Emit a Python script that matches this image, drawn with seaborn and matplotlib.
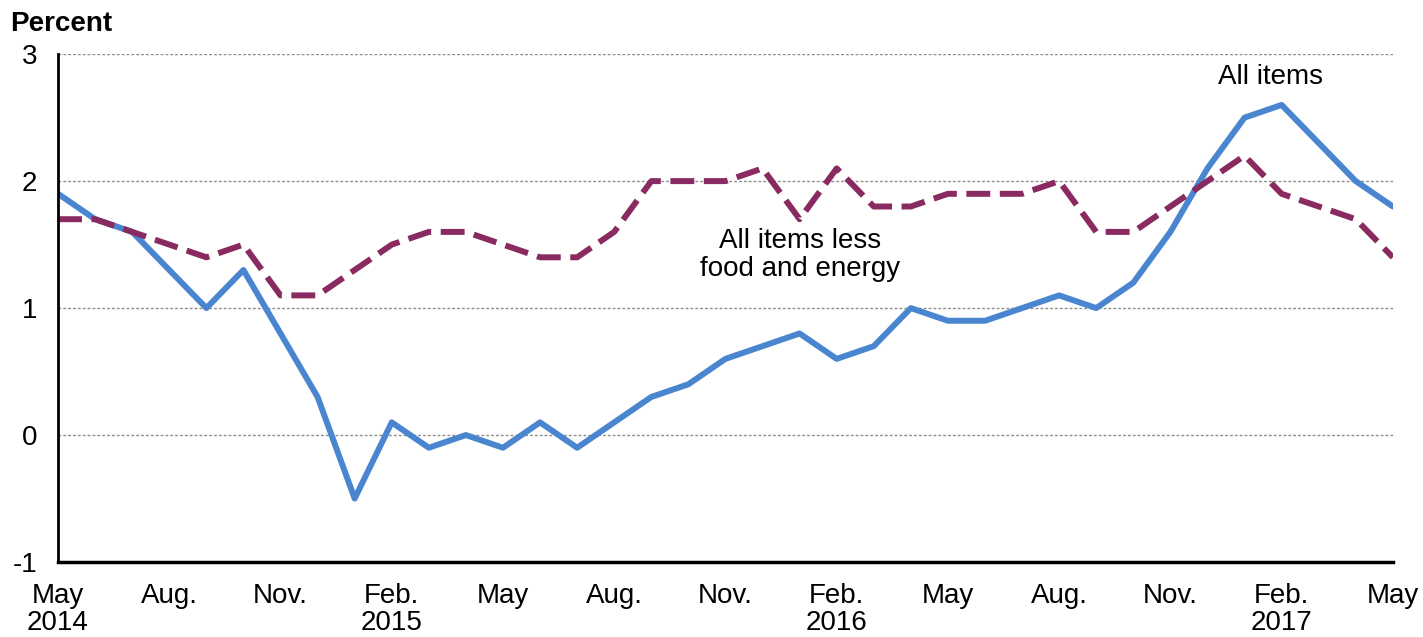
import matplotlib
matplotlib.use("Agg")
import matplotlib.pyplot as plt
import pandas as pd
import seaborn as sns

# 12-month percent change, May 2014 - May 2017
months = pd.date_range("2014-05-01", "2017-05-01", freq="MS")
all_items = [
    1.9, 1.7, 1.6, 1.3, 1.0, 1.3, 0.8, 0.3, -0.5, 0.1, -0.1, 0.0,
    -0.1, 0.1, -0.1, 0.1, 0.3, 0.4, 0.6, 0.7, 0.8, 0.6, 0.7, 1.0,
    0.9, 0.9, 1.0, 1.1, 1.0, 1.2, 1.6, 2.1, 2.5, 2.6, 2.3, 2.0, 1.8,
]
core_items = [
    1.7, 1.7, 1.6, 1.5, 1.4, 1.5, 1.1, 1.1, 1.3, 1.5, 1.6, 1.6,
    1.5, 1.4, 1.4, 1.6, 2.0, 2.0, 2.0, 2.1, 1.7, 2.1, 1.8, 1.8,
    1.9, 1.9, 1.9, 2.0, 1.6, 1.6, 1.8, 2.0, 2.2, 1.9, 1.8, 1.7, 1.4,
]
tick_labels = [
    "May\n2014", "Aug.", "Nov.", "Feb.\n2015", "May", "Aug.", "Nov.",
    "Feb.\n2016", "May", "Aug.", "Nov.", "Feb.\n2017", "May",
]
y_ticks = [-1, 0, 1, 2, 3]

df = pd.DataFrame({
    "idx": list(range(len(months))) * 2,
    "value": all_items + core_items,
    "series": ["All items"] * len(months) + ["All items less food and energy"] * len(months),
})

sns.set_style("white")
plt.rcParams["font.family"] = ["Liberation Sans", "DejaVu Sans"]
plt.rcParams["text.color"] = "black"
plt.rcParams["xtick.labelcolor"] = "black"
plt.rcParams["ytick.labelcolor"] = "black"
FS = 20

fig = plt.figure(figsize=(14.23, 6.37), dpi=100)
ax = fig.add_axes([0.0408, 0.1177, 0.938, 0.7973])

palette = {"All items": "#4a86d0", "All items less food and energy": "#892b60"}
sns.lineplot(data=df, x="idx", y="value", hue="series", style="series",
             palette=palette, dashes={"All items": "",
                                      "All items less food and energy": (4, 1.6)},
             linewidth=4.3, legend=False, ax=ax)

ax.set_xlim(0, len(months) - 1)
ax.set_ylim(-1, 3)
ax.set_yticks(y_ticks)
ax.set_yticklabels([str(t) for t in y_ticks], fontsize=FS)
ax.set_xticks(range(len(months)))
ax.set_xticklabels([tick_labels[i // 3] if i % 3 == 0 else "" for i in range(len(months))],
                   fontsize=FS, linespacing=1.05)
ax.tick_params(axis="x", direction="out", length=7, width=2, color="black",
               labelcolor="black", pad=8)
ax.tick_params(axis="y", direction="out", length=7, width=1, color="#777777",
               labelcolor="black", pad=8)
ax.set_xlabel("")
ax.set_ylabel("")

for y in [0, 1, 2, 3]:
    ax.axhline(y, color="#8c8c8c", linestyle=(0, (2, 1.5)), linewidth=1, zorder=0)

for side in ["top", "right"]:
    ax.spines[side].set_visible(False)
ax.spines["left"].set_color("black")
ax.spines["left"].set_linewidth(2)
ax.spines["bottom"].set_color("black")
ax.spines["bottom"].set_linewidth(2.5)

fig.text(0.007, 0.962, "Percent", fontsize=FS, fontweight="bold", va="center",
         ha="left", color="black")
ax.text(32.7, 2.82, "All items", fontsize=FS, ha="center", va="center", color="black")
ax.text(20.0, 1.42, "All items less\nfood and energy", fontsize=FS, ha="center",
        va="center", linespacing=1.1, color="black")

fig.savefig("out.png", dpi=100)
